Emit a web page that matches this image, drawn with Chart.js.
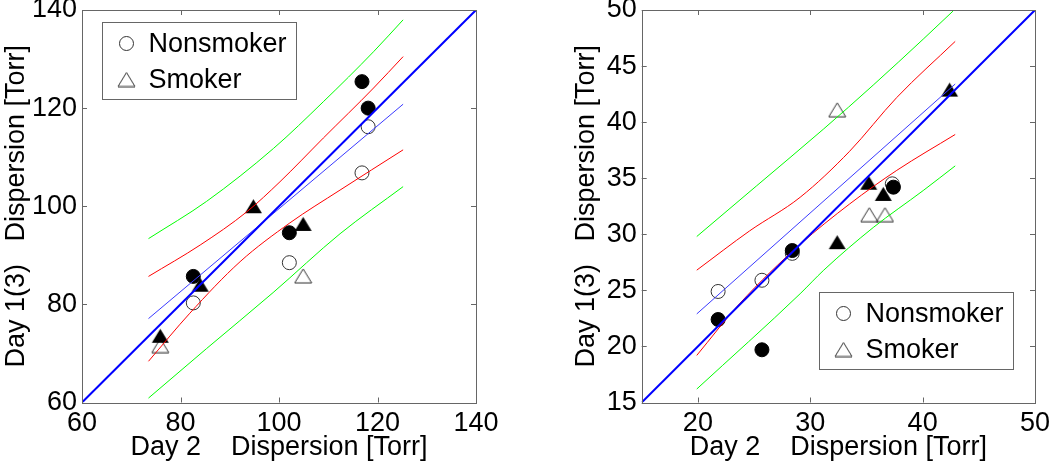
<!DOCTYPE html>
<html><head><meta charset="utf-8">
<script src="https://cdn.jsdelivr.net/npm/chart.js@4.4.1/dist/chart.umd.min.js"></script>
<style>
html,body{margin:0;padding:0;background:#fff;}
#wrap{position:relative;width:1050px;height:465px;overflow:hidden;}
canvas{position:absolute;top:0;}
</style></head><body>
<div id="wrap">
<canvas id="c1" width="525" height="465" style="left:0"></canvas>
<canvas id="c2" width="525" height="465" style="left:525px"></canvas>
</div>
<script>
// ---------- tick labels ----------
const xTicksL = [60, 80, 100, 120, 140];
const yTicksL = [60, 80, 100, 120, 140];
const xTicksR = [20, 30, 40, 50];
const yTicksR = [15, 20, 25, 30, 35, 40, 45, 50];
const xTitle = 'Day 2    Dispersion [Torr]';
const yTitle = 'Day 1(3)   Dispersion [Torr]';
const legendLabels = ['Nonsmoker', 'Smoker'];

// ---------- left panel data ----------
const identL = [60, 140];
const nsOpenLX = [82.6, 102.1, 118.1, 116.85];
const nsOpenLY = [80.3, 88.5, 116.2, 106.8];
const nsFillLX = [82.6, 102.1, 116.85, 118.1];
const nsFillLY = [85.7, 94.6, 125.4, 120.0];
const smOpenLX = [75.9, 104.9];
const smOpenLY = [71.6, 85.8];
const smFillLX = [75.9, 84.0, 94.8, 104.9];
const smFillLY = [73.6, 84.0, 100.0, 96.4];
const fitLX = [73.5, 125.2];
const fitLY = [77.1, 120.8];
const redUpLX = [73.5, 84.0, 93.5, 100.2, 109.0, 119.2, 125.2];
const redUpLY = [85.7, 92.1, 98.9, 105.0, 113.9, 124.1, 130.5];
const redLoLX = [73.5, 81.9, 92.1, 102.2, 112.4, 125.2];
const redLoLY = [68.4, 78.2, 88.7, 96.6, 103.3, 111.5];
const grnUpLX = [73.5, 85.3, 98.9, 109.0, 119.2, 125.2];
const grnUpLY = [93.4, 101.0, 111.8, 121.3, 131.5, 138.0];
const grnLoLX = [73.5, 85.3, 98.8, 112.4, 125.2];
const grnLoLY = [60.9, 71.0, 82.4, 94.4, 104.0];

// ---------- right panel data ----------
const identR = [15, 50];
const nsOpenRX = [21.8, 25.7, 28.4, 37.3];
const nsOpenRY = [24.9, 25.9, 28.3, 34.5];
const nsFillRX = [21.8, 25.7, 28.4, 37.4];
const nsFillRY = [22.4, 19.7, 28.55, 34.2];
const smOpenRX = [32.4, 35.25, 36.65];
const smOpenRY = [41.1, 31.75, 31.75];
const smFillRX = [32.4, 35.2, 36.5, 42.4];
const smFillRY = [29.3, 34.6, 33.6, 42.9];
const fitRX = [19.9, 42.9];
const fitRY = [22.9, 43.4];
const redUpRX = [19.9, 24.6, 29.1, 33.5, 37.7, 42.9];
const redUpRY = [26.8, 30.3, 33.3, 37.4, 42.2, 47.2];
const redLoRX = [19.9, 23.7, 29.1, 33.5, 37.7, 42.9];
const redLoRY = [19.2, 23.8, 29.1, 32.7, 35.7, 38.9];
const grnUpRX = [19.9, 25.2, 31.2, 35.6, 40.05, 42.7];
const grnUpRY = [29.8, 34.3, 39.4, 43.3, 47.4, 49.9];
const grnLoRX = [19.9, 29.1, 31.2, 35.6, 40.05, 42.9];
const grnLoRY = [16.2, 24.7, 26.8, 30.6, 33.9, 36.1];

// ---------- helpers ----------
Chart.defaults.font.family = "'Liberation Sans', Arial, Helvetica, sans-serif";
Chart.defaults.font.size = 27;
Chart.defaults.color = '#000';

function pts(xs, ys) { return xs.map((x, i) => ({x: x, y: ys[i]})); }

function triCanvas(filled) {
  const c = document.createElement('canvas');
  c.width = 19; c.height = 16;
  const g = c.getContext('2d');
  g.beginPath();
  g.moveTo(9.5, 1); g.lineTo(18, 15); g.lineTo(1, 15); g.closePath();
  if (filled) { g.fillStyle = '#000'; g.fill(); }
  else { g.strokeStyle = '#333'; g.lineWidth = 1; g.stroke(); }
  return c;
}
const triOpen = triCanvas(false);
const triFill = triCanvas(true);

function lineDs(xs, ys, color, w) {
  return {data: pts(xs, ys), showLine: true, borderColor: color, borderWidth: w,
    pointRadius: 0, pointHoverRadius: 0, fill: false, cubicInterpolationMode: 'monotone', order: 0};
}
function circDs(xs, ys, filled) {
  return {data: pts(xs, ys), showLine: false, pointStyle: 'circle', pointRadius: 7,
    pointBorderWidth: 1, pointBorderColor: filled ? '#000' : '#333',
    pointBackgroundColor: filled ? '#000' : 'rgba(0,0,0,0)', order: filled ? 1 : 2};
}
function triDs(xs, ys, filled) {
  return {data: pts(xs, ys), showLine: false, pointStyle: filled ? triFill : triOpen,
    pointRadius: 8, order: filled ? 1 : 2};
}

const framePlugin = {
  id: 'frame',
  afterDatasetsDraw(chart) {
    const {ctx, chartArea: a, scales} = chart;
    const x = scales.x, y = scales.y, L = 5;
    ctx.save();
    ctx.strokeStyle = '#666'; ctx.lineWidth = 1;
    ctx.beginPath();
    x.ticks.forEach(t => {
      const p = Math.round(x.getPixelForValue(t.value)) + 0.5;
      ctx.moveTo(p, a.bottom); ctx.lineTo(p, a.bottom - L);
      ctx.moveTo(p, a.top); ctx.lineTo(p, a.top + L);
    });
    y.ticks.forEach(t => {
      const p = Math.round(y.getPixelForValue(t.value)) + 0.5;
      ctx.moveTo(a.left, p); ctx.lineTo(a.left + L, p);
      ctx.moveTo(a.right, p); ctx.lineTo(a.right - L, p);
    });
    ctx.stroke();
    ctx.strokeRect(Math.round(a.left) + 0.5, Math.round(a.top) + 0.5,
      Math.round(a.right - a.left), Math.round(a.bottom - a.top));
    ctx.restore();
  },
  afterDraw(chart) {
    const o = chart.options.plugins.boxLegend;
    if (!o) return;
    const {ctx, chartArea: a} = chart;
    const bx = Math.round(a.left + o.dx) + 0.5, by = Math.round(a.top + o.dy) + 0.5;
    ctx.save();
    ctx.fillStyle = '#fff';
    ctx.fillRect(bx, by, o.w, o.h);
    ctx.strokeStyle = '#666'; ctx.lineWidth = 1;
    ctx.strokeRect(bx, by, o.w, o.h);
    ctx.beginPath();
    ctx.arc(bx + 24, by + 21, 7, 0, Math.PI * 2);
    ctx.strokeStyle = '#333'; ctx.stroke();
    ctx.drawImage(triOpen, bx + 24 - 9.5, by + 57 - 8);
    ctx.fillStyle = '#000';
    ctx.font = "27px 'Liberation Sans', Arial, Helvetica, sans-serif";
    ctx.textBaseline = 'middle';
    ctx.textAlign = 'left';
    ctx.fillText(legendLabels[0], bx + 46, by + 22);
    ctx.fillText(legendLabels[1], bx + 46, by + 58);
    ctx.restore();
  }
};

function makeChart(id, d) {
  return new Chart(document.getElementById(id), {
    type: 'scatter',
    data: {datasets: [
      lineDs(d.ident, d.ident, '#0000ff', 2),
      lineDs(d.fitX, d.fitY, '#3a3aff', 1),
      lineDs(d.ruX, d.ruY, '#ff0000', 1),
      lineDs(d.rlX, d.rlY, '#ff0000', 1),
      lineDs(d.guX, d.guY, '#00ff00', 1),
      lineDs(d.glX, d.glY, '#00ff00', 1),
      circDs(d.noX, d.noY, false),
      triDs(d.soX, d.soY, false),
      circDs(d.nfX, d.nfY, true),
      triDs(d.sfX, d.sfY, true)
    ]},
    options: {
      responsive: false, animation: false, devicePixelRatio: 1,
      layout: {padding: d.pad},
      plugins: {legend: {display: false}, tooltip: {enabled: false}, boxLegend: d.legend},
      scales: {
        x: {type: 'linear', min: d.xMin, max: d.xMax,
          grid: {display: false, drawTicks: false}, border: {display: false},
          ticks: {padding: 5, maxRotation: 0, autoSkip: false, font: {size: 27, lineHeight: 1.2}},
          title: {display: true, text: xTitle, font: {size: 27, lineHeight: 1.2}, padding: {top: 0, bottom: 1}},
          afterBuildTicks: s => { s.ticks = d.xTicks.map(v => ({value: v})); },
          afterFit: s => { s.height = 62.5; s.paddingLeft = 0; s.paddingRight = 0; }
        },
        y: {type: 'linear', min: d.yMin, max: d.yMax,
          grid: {display: false, drawTicks: false}, border: {display: false},
          ticks: {padding: 5, autoSkip: false, font: {size: 27, lineHeight: 1.2}},
          title: {display: true, text: yTitle, font: {size: 27, lineHeight: 1.2}, padding: {top: 0, bottom: 0}},
          afterBuildTicks: s => { s.ticks = d.yTicks.map(v => ({value: v})); },
          afterFit: s => { s.width = d.yW; s.paddingTop = 0; s.paddingBottom = 0; }
        }
      }
    },
    plugins: [framePlugin]
  });
}

makeChart('c1', {
  ident: identL, fitX: fitLX, fitY: fitLY,
  ruX: redUpLX, ruY: redUpLY, rlX: redLoLX, rlY: redLoLY,
  guX: grnUpLX, guY: grnUpLY, glX: grnLoLX, glY: grnLoLY,
  noX: nsOpenLX, noY: nsOpenLY, nfX: nsFillLX, nfY: nsFillLY,
  soX: smOpenLX, soY: smOpenLY, sfX: smFillLX, sfY: smFillLY,
  xMin: 60, xMax: 140, yMin: 60, yMax: 140, xTicks: xTicksL, yTicks: yTicksL,
  pad: {left: 0, right: 49, top: 10, bottom: 0}, yW: 82,
  legend: {dx: 20, dy: 12, w: 194, h: 77}
});
makeChart('c2', {
  ident: identR, fitX: fitRX, fitY: fitRY,
  ruX: redUpRX, ruY: redUpRY, rlX: redLoRX, rlY: redLoRY,
  guX: grnUpRX, guY: grnUpRY, glX: grnLoRX, glY: grnLoRY,
  noX: nsOpenRX, noY: nsOpenRY, nfX: nsFillRX, nfY: nsFillRY,
  soX: smOpenRX, soY: smOpenRY, sfX: smFillRX, sfY: smFillRY,
  xMin: 15, xMax: 50, yMin: 15, yMax: 50, xTicks: xTicksR, yTicks: yTicksR,
  pad: {left: 45, right: 15, top: 10, bottom: 0}, yW: 71.7,
  legend: {dx: 177, dy: 282, w: 194, h: 77}
});
</script>
</body></html>
